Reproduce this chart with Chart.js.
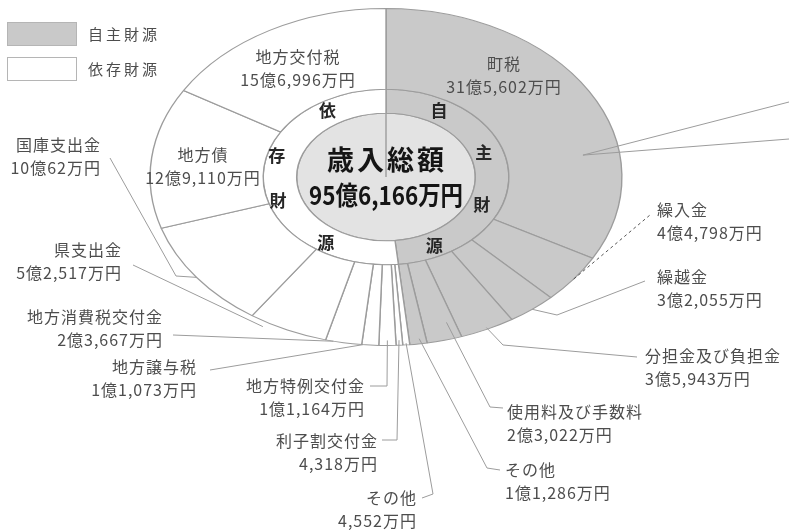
<!DOCTYPE html>
<html>
<head>
<meta charset="utf-8">
<script src="https://cdn.jsdelivr.net/npm/chart.js@4.4.0/dist/chart.umd.min.js"></script>
<style>
  html, body { margin: 0; padding: 0; background: #fff; }
  #wrap { width: 789px; height: 531px; }
</style>
</head>
<body>
<div id="wrap"><canvas id="revenueChart" width="789" height="531"></canvas></div>
<script>
// 歳入の内訳（単位：万円）、上から時計回り
const categories = [
  "町税", "繰入金", "繰越金", "分担金及び負担金", "使用料及び手数料", "その他",
  "その他", "利子割交付金", "地方特例交付金", "地方譲与税", "地方消費税交付金",
  "県支出金", "国庫支出金", "地方債", "地方交付税"
];
const amounts = [
  315602, 44798, 32055, 35943, 23022, 11286,
  4552, 4318, 11164, 11073, 23667,
  52517, 100062, 129110, 156996
];
// 0 = 自主財源, 1 = 依存財源
const sourceGroup = [0, 0, 0, 0, 0, 0, 1, 1, 1, 1, 1, 1, 1, 1, 1];
const groupNames = ["自主財源", "依存財源"];
const totalTitle = "歳入総額";
const totalText = "95億6,166万円";

const GREY = "#c9c9c9";
const LINE = "#9c9c9c";
const TEXT = "#4d4d4d";
const SX = 1.4; // the reference draws the pie as an ellipse

const groupTotals = groupNames.map((_, g) =>
  amounts.filter((v, i) => sourceGroup[i] === g).reduce((a, b) => a + b, 0)
);

function yen(v) {
  const oku = Math.floor(v / 10000);
  const man = (v % 10000).toLocaleString("en-US");
  return oku > 0 ? oku + "億" + man + "万円" : man + "万円";
}

// label layout: text position, alignment, leader line (at = [angle fraction in slice, radius fraction])
const labelLayout = [
  { x: 504, y: 64, align: "center" },
  { x: 657, y: 210, align: "left", at: [0.5, 1.0], path: [[650, 215]], dash: true },
  { x: 657, y: 277, align: "left", at: [0.5, 1.0], path: [[557, 315], [645, 281]] },
  { x: 645, y: 356, align: "left", at: [0.5, 0.99], path: [[503, 345], [637, 357]] },
  { x: 507, y: 412, align: "left", at: [0.25, 0.9], path: [[490, 407], [503, 408]] },
  { x: 505, y: 470, align: "left", at: [0.4, 0.97], path: [[487, 468], [500, 470]] },
  { x: 417, y: 498, align: "right", at: [0.5, 0.99], path: [[433, 494], [422, 498]] },
  { x: 378, y: 441, align: "right", at: [0.5, 0.97], path: [[397, 440], [382, 440]] },
  { x: 365, y: 386, align: "right", at: [0.5, 0.97], path: [[387, 386], [370, 386]] },
  { x: 197, y: 367, align: "right", at: [0.93, 1.0], path: [[210, 370]] },
  { x: 163, y: 317, align: "right", at: [0.78, 1.0], path: [[173, 335]] },
  { x: 122, y: 250, align: "right", at: [0.79, 1.03], path: [[133, 265]] },
  { x: 101, y: 145, align: "right", at: [0.5, 1.0], path: [[176, 276], [110, 158]] },
  { x: 203, y: 155, align: "center" },
  { x: 298, y: 57, align: "center" }
];
// ring characters, degrees clockwise from top, and horizontal stretch per side
const ringAngles = [[31, 72, 111, 152], [329, 286, 252, 212]];
const ringStretch = [1.32, 1.46];

function pointOnArc(arc, frac, rFrac) {
  const a = arc.startAngle + (arc.endAngle - arc.startAngle) * frac;
  const r = arc.outerRadius * rFrac;
  return [arc.x + Math.cos(a) * r * SX, arc.y + Math.sin(a) * r];
}

const ellipsePlugin = {
  id: "ellipse",
  beforeDatasetsDraw(chart) {
    const arc = chart.getDatasetMeta(0).data[0];
    const ctx = chart.ctx;
    ctx.save();
    ctx.translate(arc.x, arc.y);
    ctx.scale(SX, 1);
    ctx.translate(-arc.x, -arc.y);
  },
  afterDatasetsDraw(chart) {
    chart.ctx.restore();
  }
};

const labelPlugin = {
  id: "labels",
  afterDraw(chart) {
    const ctx = chart.ctx;
    const outer = chart.getDatasetMeta(0).data;
    const mid = chart.getDatasetMeta(1).data[0];
    const cx = mid.x, cy = mid.y;

    // leader lines
    ctx.save();
    ctx.lineWidth = 1;
    labelLayout.forEach((l, i) => {
      if (!l.at) return;
      const p = pointOnArc(outer[i], l.at[0], l.at[1]);
      ctx.setLineDash(l.dash ? [3, 3] : []);
      ctx.strokeStyle = l.dash ? "#555" : LINE;
      ctx.beginPath();
      ctx.moveTo(p[0], p[1]);
      l.path.forEach((q) => ctx.lineTo(q[0], q[1]));
      ctx.stroke();
    });
    // 町税 lines running off to the right edge
    ctx.setLineDash([]);
    ctx.strokeStyle = LINE;
    const tp = pointOnArc(outer[0], 0.683, 0.845);
    [[789, 102], [789, 139]].forEach((q) => {
      ctx.beginPath();
      ctx.moveTo(tp[0], tp[1]);
      ctx.lineTo(q[0], q[1]);
      ctx.stroke();
    });
    ctx.restore();

    // category labels
    ctx.save();
    ctx.fillStyle = TEXT;
    ctx.font = "16px 'Noto Sans CJK JP'";
    ctx.letterSpacing = "1px";
    ctx.textBaseline = "middle";
    labelLayout.forEach((l, i) => {
      ctx.textAlign = l.align;
      ctx.fillText(categories[i], l.x, l.y);
      ctx.fillText(yen(amounts[i]), l.x, l.y + 23);
    });
    ctx.restore();

    // ring characters
    ctx.save();
    ctx.fillStyle = "#262626";
    ctx.font = "bold 17px 'Noto Sans CJK JP'";
    ctx.textAlign = "center";
    ctx.textBaseline = "middle";
    const rr = (mid.innerRadius + mid.outerRadius) / 2 + 2;
    groupNames.forEach((name, g) => {
      name.split("").forEach((ch, k) => {
        const a = (ringAngles[g][k] - 90) * Math.PI / 180;
        ctx.fillText(ch, cx + Math.cos(a) * rr * ringStretch[g], cy + Math.sin(a) * rr);
      });
    });

    // total in the middle
    ctx.fillStyle = "#151515";
    ctx.font = "bold 27px 'Noto Sans CJK JP'";
    ctx.letterSpacing = "3px";
    ctx.fillText(totalTitle, cx + 1, cy - 17);
    ctx.letterSpacing = "0px";
    ctx.font = "bold 26px 'Noto Sans CJK JP'";
    ctx.fillText(totalText, cx, cy + 18, 154);
    ctx.restore();

    // legend
    ctx.save();
    ctx.lineWidth = 1;
    ctx.strokeStyle = "#b5b5b5";
    [GREY, "#ffffff"].forEach((c, g) => {
      const y = 22 + g * 35;
      ctx.fillStyle = c;
      ctx.fillRect(7.5, y + 0.5, 69, 23);
      ctx.strokeRect(7.5, y + 0.5, 69, 23);
      ctx.fillStyle = TEXT;
      ctx.font = "15px 'Noto Sans CJK JP'";
      ctx.letterSpacing = "3px";
      ctx.textAlign = "left";
      ctx.textBaseline = "middle";
      ctx.fillText(groupNames[g], 88, y + 12);
    });
    ctx.restore();
  }
};

new Chart(document.getElementById("revenueChart"), {
  type: "pie",
  data: {
    labels: categories,
    datasets: [
      {
        data: amounts,
        backgroundColor: sourceGroup.map((g) => (g === 0 ? GREY : "#ffffff")),
        borderColor: LINE,
        borderWidth: 1,
        weight: 81,
        clip: false
      },
      {
        data: groupTotals,
        backgroundColor: [GREY, "#ffffff"],
        borderColor: LINE,
        borderWidth: 1,
        weight: 24,
        clip: false
      },
      {
        data: [1],
        backgroundColor: ["#e3e3e3"],
        borderColor: LINE,
        borderWidth: 1,
        weight: 64,
        clip: false
      }
    ]
  },
  options: {
    responsive: false,
    animation: false,
    events: [],
    layout: { padding: { left: 217, top: 8, right: 234, bottom: 185 } },
    plugins: {
      legend: { display: false },
      tooltip: { enabled: false }
    }
  },
  plugins: [ellipsePlugin, labelPlugin]
});
</script>
</body>
</html>
